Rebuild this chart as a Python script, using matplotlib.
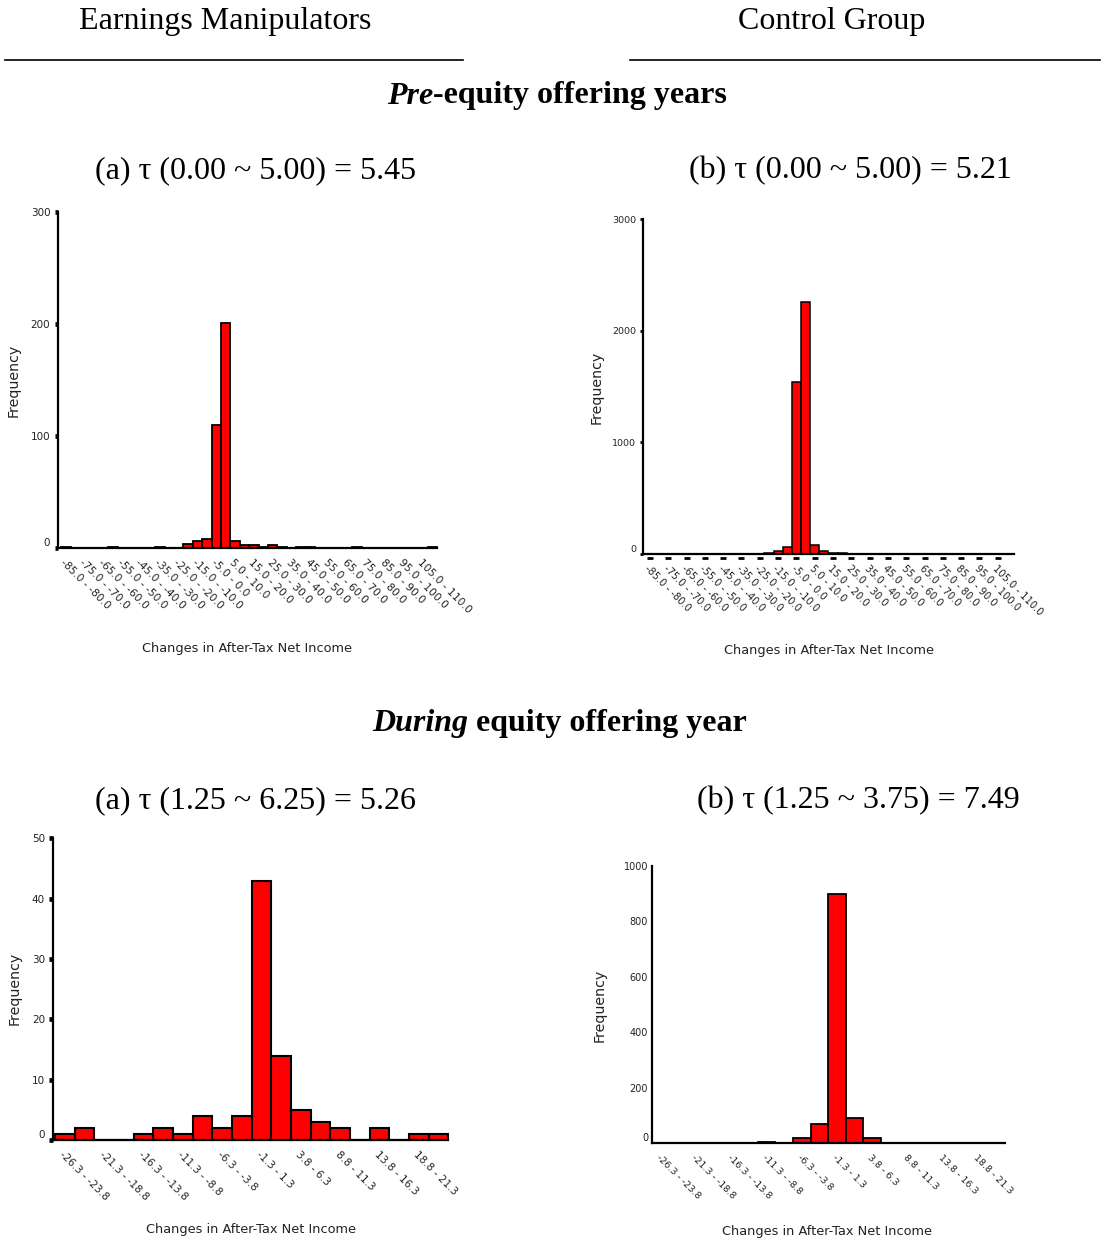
import matplotlib
matplotlib.use("Agg")
import matplotlib.pyplot as plt
from matplotlib.lines import Line2D
from matplotlib.transforms import ScaledTranslation

W, H = 1102, 1245
DPI = 100

# ---- data ----
pre_labels = ["-85.0 - -80.0", "-75.0 - -70.0", "-65.0 - -60.0", "-55.0 - -50.0",
              "-45.0 - -40.0", "-35.0 - -30.0", "-25.0 - -20.0", "-15.0 - -10.0",
              "-5.0 - 0.0", "5.0 - 10.0", "15.0 - 20.0", "25.0 - 30.0",
              "35.0 - 40.0", "45.0 - 50.0", "55.0 - 60.0", "65.0 - 70.0",
              "75.0 - 80.0", "85.0 - 90.0", "95.0 - 100.0", "105.0 - 110.0"]
# 40 bins of width 5, -85 .. 115
pre_manip = [1, 0, 0, 0, 0, 1, 0, 0, 0, 0,
             1, 0, 0, 3, 6, 8, 110, 201, 6, 2,
             2, 1, 2, 1, 0, 1, 1, 0, 0, 0,
             0, 1, 0, 0, 0, 0, 0, 0, 0, 1]
pre_control = [2, 2, 2, 2, 2, 2, 2, 2, 2, 2,
               2, 3, 3, 10, 25, 60, 1540, 2255, 80, 25,
               10, 5, 3, 3, 2, 2, 2, 2, 2, 2,
               2, 2, 2, 2, 2, 2, 2, 2, 2, 2]

during_labels = ["-26.3 - -23.8", "-21.3 - -18.8", "-16.3 - -13.8", "-11.3 - -8.8",
                 "-6.3 - -3.8", "-1.3 - 1.3", "3.8 - 6.3", "8.8 - 11.3",
                 "13.8 - 16.3", "18.8 - 21.3"]
# 20 bins of width 2.5
during_manip = [1, 2, 0, 0, 1, 2, 1, 4, 2, 4, 43, 14, 5, 3, 2, 0, 2, 0, 1, 1]
during_control = [0, 0, 0, 0, 2, 2, 5, 0, 18, 68, 900, 90, 18, 1, 1, 1, 1, 1, 1, 1]

pre_yticks = {"manip": [0, 100, 200, 300], "control": [0, 1000, 2000, 3000]}
during_yticks = {"manip": [0, 10, 20, 30, 40, 50], "control": [0, 200, 400, 600, 800, 1000]}

fig = plt.figure(figsize=(W / DPI, H / DPI), dpi=DPI)
plt.rcParams['font.family'] = ['DejaVu Sans']


def px_axes(left, right, y0, ytop):
    return fig.add_axes([left / W, 1 - y0 / H, (right - left) / W, (y0 - ytop) / H])


def panel(box, xlim, counts, labels, yticks, bar_lw, spine_lw, tick_len, tick_w,
          xfs, yfs, dashes=False):
    ax = px_axes(*box)
    n = len(counts)
    ax.bar(range(n), counts, width=1.0, color="#ff0000", edgecolor="black",
           linewidth=bar_lw, zorder=2, clip_on=False)
    ax.set_xlim(*xlim)
    ax.set_ylim(yticks[0], yticks[-1])
    for s in ("top", "right"):
        ax.spines[s].set_visible(False)
    for s in ("left", "bottom"):
        ax.spines[s].set_linewidth(spine_lw)
        ax.spines[s].set_zorder(3)
    ax.set_yticks(yticks)
    ax.set_yticklabels([str(v) for v in yticks], fontsize=yfs, color="#222222")
    ax.get_yticklabels()[0].set_va("bottom")
    ax.tick_params(axis="y", direction="out", length=tick_len, width=tick_w, pad=3)
    pos = list(range(0, n, 2))
    ax.set_xticks(pos)
    ax.set_xticklabels(labels, rotation=-45, ha="left", va="top",
                       rotation_mode="anchor", fontsize=xfs, color="#222222")
    off = ScaledTranslation(3 / DPI, 0, fig.dpi_scale_trans)
    for t in ax.get_xticklabels():
        t.set_transform(t.get_transform() + off)
    ax.tick_params(axis="x", length=0, pad=7)
    if dashes:
        ax.plot(pos, [0] * len(pos), ls="none", marker="_", ms=5, mew=2, color="black",
                transform=ax.transData + ScaledTranslation(0, -4 / DPI, fig.dpi_scale_trans),
                clip_on=False, zorder=4)
    return ax


panel((58, 437, 547.7, 211.7), (-0.85, 39.5), pre_manip, pre_labels,
      pre_yticks["manip"], 1.3, 1.6, 2.5, 3.4, 7.7, 7.5)
panel((643.3, 1014, 554, 219.3), (-0.73, 39.78), pre_control, pre_labels,
      pre_yticks["control"], 1.1, 1.6, 2, 2, 7.1, 6.8, dashes=True)
panel((53.3, 448.3, 1140, 838.3), (-0.59, 19.5), during_manip, during_labels,
      during_yticks["manip"], 1.5, 1.6, 3, 3.4, 7.6, 7.5)
panel((652.3, 1005, 1143.3, 866), (-0.5, 19.54), during_control, during_labels,
      during_yticks["control"], 1.3, 1.6, 0, 0, 6.8, 7)


def ftext(x, y, s, **kw):
    return fig.text(x / W, 1 - y / H, s, **kw)


serif = ["Liberation Serif", "DejaVu Serif"]
ftext(225, 22, "Earnings Manipulators", ha="center", va="center", fontsize=23, family=serif)
ftext(832, 22, "Control Group", ha="center", va="center", fontsize=23, family=serif)
fig.add_artist(Line2D([5 / W, 463 / W], [1 - 60 / H] * 2, color="black", lw=1.2))
fig.add_artist(Line2D([630 / W, 1100 / W], [1 - 60 / H] * 2, color="black", lw=1.2))

ftext(433, 96, "Pre", ha="right", va="center", fontsize=23, family=serif,
      style="italic", weight="bold")
ftext(433, 96, "-equity offering years", ha="left", va="center", fontsize=23,
      family=serif, weight="bold")
ftext(468, 724, "During", ha="right", va="center", fontsize=23, family=serif,
      style="italic", weight="bold")
ftext(468, 724, " equity offering year", ha="left", va="center", fontsize=23,
      family=serif, weight="bold")

ftext(255.5, 171, "(a) τ (0.00 ~ 5.00) = 5.45", ha="center", va="center", fontsize=23, family=serif)
ftext(850, 171, "(b) τ (0.00 ~ 5.00) = 5.21", ha="center", va="center", fontsize=23, family=serif)
ftext(255.5, 801, "(a) τ (1.25 ~ 6.25) = 5.26", ha="center", va="center", fontsize=23, family=serif)
ftext(858.5, 801, "(b) τ (1.25 ~ 3.75) = 7.49", ha="center", va="center", fontsize=23, family=serif)

for x, y in [(247, 649), (829, 650), (251, 1230), (827, 1232)]:
    ftext(x, y, "Changes in After-Tax Net Income", ha="center", va="center",
          fontsize=9.3, color="#222222")
for x, y in [(14, 380), (597, 387), (15, 988), (600, 1005)]:
    ftext(x, y, "Frequency", ha="center", va="center", rotation=90,
          fontsize=10.2, color="#222222")

fig.savefig("out.png", dpi=DPI)
